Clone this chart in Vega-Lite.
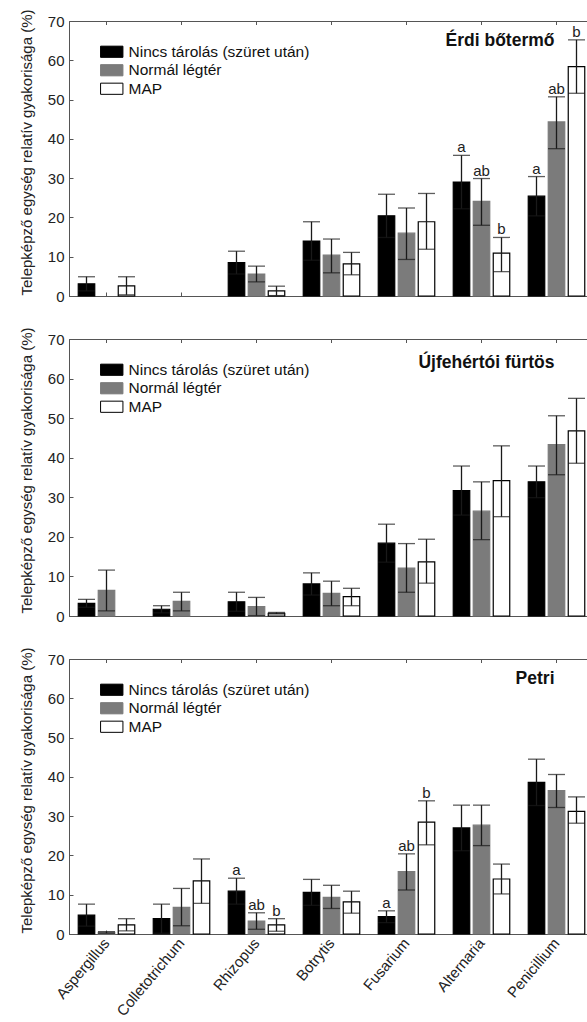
{
"$schema":"https://vega.github.io/schema/vega-lite/v6.json",
"padding":{"left":18,"top":8,"right":0,"bottom":0},
"config":{"font":"Liberation Sans","view":{"stroke":"#555","strokeWidth":1},
"axis":{"domainColor":"#555","tickColor":"#555","labelColor":"#222","titleColor":"#222","grid":false},
"axisY":{"tickCount":7,"labelFontSize":15,"labelPadding":9,"tickSize":-4,"titleFontSize":15,"titleFontWeight":"normal","titlePadding":13,"titleY":131},
"legend":{"labelLimit":400}},
"bounds":"flush",
"spacing":43,
"datasets":{
"erdi":[
{"genus":"Aspergillus","treatment":"Nincs tárolás (szüret után)","mean":3.1,"lo":1.3,"hi":4.9,"letter":""},
{"genus":"Aspergillus","treatment":"Normál légtér","mean":0,"lo":0,"hi":0,"letter":""},
{"genus":"Aspergillus","treatment":"MAP","mean":2.6,"lo":0.3,"hi":4.9,"letter":""},
{"genus":"Colletotrichum","treatment":"Nincs tárolás (szüret után)","mean":0,"lo":0,"hi":0,"letter":""},
{"genus":"Colletotrichum","treatment":"Normál légtér","mean":0,"lo":0,"hi":0,"letter":""},
{"genus":"Colletotrichum","treatment":"MAP","mean":0,"lo":0,"hi":0,"letter":""},
{"genus":"Rhizopus","treatment":"Nincs tárolás (szüret után)","mean":8.5,"lo":5.6,"hi":11.4,"letter":""},
{"genus":"Rhizopus","treatment":"Normál légtér","mean":5.6,"lo":3.6,"hi":7.6,"letter":""},
{"genus":"Rhizopus","treatment":"MAP","mean":1.3,"lo":0.1,"hi":2.5,"letter":""},
{"genus":"Botrytis","treatment":"Nincs tárolás (szüret után)","mean":14.0,"lo":9.1,"hi":18.9,"letter":""},
{"genus":"Botrytis","treatment":"Normál légtér","mean":10.4,"lo":5.9,"hi":14.5,"letter":""},
{"genus":"Botrytis","treatment":"MAP","mean":8.2,"lo":5.4,"hi":11.1,"letter":""},
{"genus":"Fusarium","treatment":"Nincs tárolás (szüret után)","mean":20.4,"lo":14.9,"hi":25.9,"letter":""},
{"genus":"Fusarium","treatment":"Normál légtér","mean":16.0,"lo":9.3,"hi":22.4,"letter":""},
{"genus":"Fusarium","treatment":"MAP","mean":18.9,"lo":11.9,"hi":26.1,"letter":""},
{"genus":"Alternaria","treatment":"Nincs tárolás (szüret után)","mean":29.0,"lo":22.2,"hi":35.8,"letter":"a"},
{"genus":"Alternaria","treatment":"Normál légtér","mean":24.1,"lo":18.0,"hi":29.9,"letter":"ab"},
{"genus":"Alternaria","treatment":"MAP","mean":10.9,"lo":6.2,"hi":14.9,"letter":"b"},
{"genus":"Penicillium","treatment":"Nincs tárolás (szüret után)","mean":25.4,"lo":20.4,"hi":30.4,"letter":"a"},
{"genus":"Penicillium","treatment":"Normál légtér","mean":44.3,"lo":37.5,"hi":50.7,"letter":"ab"},
{"genus":"Penicillium","treatment":"MAP","mean":58.4,"lo":51.6,"hi":65.2,"letter":"b"}
],
"ujf":[
{"genus":"Aspergillus","treatment":"Nincs tárolás (szüret után)","mean":3.2,"lo":2.2,"hi":4.2,"letter":""},
{"genus":"Aspergillus","treatment":"Normál légtér","mean":6.5,"lo":1.3,"hi":11.6,"letter":""},
{"genus":"Aspergillus","treatment":"MAP","mean":0,"lo":0,"hi":0,"letter":""},
{"genus":"Colletotrichum","treatment":"Nincs tárolás (szüret után)","mean":1.7,"lo":0.8,"hi":2.6,"letter":""},
{"genus":"Colletotrichum","treatment":"Normál légtér","mean":3.7,"lo":1.3,"hi":6.0,"letter":""},
{"genus":"Colletotrichum","treatment":"MAP","mean":0,"lo":0,"hi":0,"letter":""},
{"genus":"Rhizopus","treatment":"Nincs tárolás (szüret után)","mean":3.6,"lo":1.2,"hi":6.0,"letter":""},
{"genus":"Rhizopus","treatment":"Normál légtér","mean":2.4,"lo":0.1,"hi":4.7,"letter":""},
{"genus":"Rhizopus","treatment":"MAP","mean":0.7,"lo":0.5,"hi":0.9,"letter":""},
{"genus":"Botrytis","treatment":"Nincs tárolás (szüret után)","mean":8.1,"lo":5.3,"hi":10.9,"letter":""},
{"genus":"Botrytis","treatment":"Normál légtér","mean":5.7,"lo":2.6,"hi":8.8,"letter":""},
{"genus":"Botrytis","treatment":"MAP","mean":4.9,"lo":2.6,"hi":7.0,"letter":""},
{"genus":"Fusarium","treatment":"Nincs tárolás (szüret után)","mean":18.4,"lo":13.6,"hi":23.2,"letter":""},
{"genus":"Fusarium","treatment":"Normál légtér","mean":12.1,"lo":6.0,"hi":18.3,"letter":""},
{"genus":"Fusarium","treatment":"MAP","mean":13.7,"lo":8.3,"hi":19.4,"letter":""},
{"genus":"Alternaria","treatment":"Nincs tárolás (szüret után)","mean":31.7,"lo":25.5,"hi":37.9,"letter":""},
{"genus":"Alternaria","treatment":"Normál légtér","mean":26.5,"lo":19.3,"hi":33.9,"letter":""},
{"genus":"Alternaria","treatment":"MAP","mean":34.2,"lo":25.1,"hi":43.0,"letter":""},
{"genus":"Penicillium","treatment":"Nincs tárolás (szüret után)","mean":33.9,"lo":29.9,"hi":37.9,"letter":""},
{"genus":"Penicillium","treatment":"Normál légtér","mean":43.3,"lo":35.7,"hi":50.6,"letter":""},
{"genus":"Penicillium","treatment":"MAP","mean":46.8,"lo":38.6,"hi":55.0,"letter":""}
],
"petri":[
{"genus":"Aspergillus","treatment":"Nincs tárolás (szüret után)","mean":4.8,"lo":2.0,"hi":7.6,"letter":""},
{"genus":"Aspergillus","treatment":"Normál légtér","mean":0.4,"lo":0.2,"hi":0.6,"letter":""},
{"genus":"Aspergillus","treatment":"MAP","mean":2.3,"lo":0.8,"hi":3.9,"letter":""},
{"genus":"Colletotrichum","treatment":"Nincs tárolás (szüret után)","mean":3.9,"lo":0.2,"hi":7.6,"letter":""},
{"genus":"Colletotrichum","treatment":"Normál légtér","mean":6.8,"lo":2.1,"hi":11.6,"letter":""},
{"genus":"Colletotrichum","treatment":"MAP","mean":13.5,"lo":7.8,"hi":19.1,"letter":""},
{"genus":"Rhizopus","treatment":"Nincs tárolás (szüret után)","mean":10.9,"lo":7.6,"hi":14.2,"letter":"a"},
{"genus":"Rhizopus","treatment":"Normál légtér","mean":3.3,"lo":1.2,"hi":5.4,"letter":"ab"},
{"genus":"Rhizopus","treatment":"MAP","mean":2.3,"lo":0.7,"hi":3.9,"letter":"b"},
{"genus":"Botrytis","treatment":"Nincs tárolás (szüret után)","mean":10.6,"lo":7.3,"hi":13.9,"letter":""},
{"genus":"Botrytis","treatment":"Normál légtér","mean":9.3,"lo":6.5,"hi":12.4,"letter":""},
{"genus":"Botrytis","treatment":"MAP","mean":8.2,"lo":5.3,"hi":10.9,"letter":""},
{"genus":"Fusarium","treatment":"Nincs tárolás (szüret után)","mean":4.4,"lo":2.9,"hi":5.9,"letter":"a"},
{"genus":"Fusarium","treatment":"Normál légtér","mean":15.9,"lo":11.2,"hi":20.4,"letter":"ab"},
{"genus":"Fusarium","treatment":"MAP","mean":28.5,"lo":22.7,"hi":33.9,"letter":"b"},
{"genus":"Alternaria","treatment":"Nincs tárolás (szüret után)","mean":27.0,"lo":21.2,"hi":32.8,"letter":""},
{"genus":"Alternaria","treatment":"Normál légtér","mean":27.7,"lo":22.5,"hi":32.8,"letter":""},
{"genus":"Alternaria","treatment":"MAP","mean":14.0,"lo":10.2,"hi":17.8,"letter":""},
{"genus":"Penicillium","treatment":"Nincs tárolás (szüret után)","mean":38.6,"lo":32.7,"hi":44.5,"letter":""},
{"genus":"Penicillium","treatment":"Normál légtér","mean":36.5,"lo":32.2,"hi":40.6,"letter":""},
{"genus":"Penicillium","treatment":"MAP","mean":31.2,"lo":28.2,"hi":34.9,"letter":""}
],
"t1":[{"genus":"Penicillium","v":65,"t":"Érdi bőtermő"}],
"t2":[{"genus":"Penicillium","v":64,"t":"Újfehértói fürtös"}],
"t3":[{"genus":"Penicillium","v":65,"t":"Petri"}]
},
"vconcat":[
{"width":525,"height":275,"data":{"name":"erdi"},
"layer":[
{"transform":[{"filter":"datum.mean > 0"}],"mark":{"type":"bar","strokeWidth":1.2},"encoding":{
"x":{"field":"genus","type":"nominal","sort":["Aspergillus","Colletotrichum","Rhizopus","Botrytis","Fusarium","Alternaria","Penicillium"],"scale":{"paddingInner":0.2,"paddingOuter":0.1},"axis":{"title":null,"labels":false,"tickSize":-4}},
"xOffset":{"field":"treatment","type":"nominal","sort":["Nincs tárolás (szüret után)","Normál légtér","MAP"],"scale":{"domain":["Nincs tárolás (szüret után)","Normál légtér","MAP"],"paddingInner":0.175,"paddingOuter":0.0875}},
"y":{"field":"mean","type":"quantitative","scale":{"domain":[0,70],"nice":false},"axis":{"title":"Telepképző egység relatív gyakorisága (%)"}},
"fill":{"field":"treatment","type":"nominal","scale":{"domain":["Nincs tárolás (szüret után)","Normál légtér","MAP"],"range":["#000000","#7b7b7b","#ffffff"]},"legend":{"orient":"none","legendX":35,"legendY":23,"title":null,"padding":0,"rowPadding":1.5,"labelFontSize":15.5,"labelOffset":9,"labelColor":"#111","symbolType":"M-2,-1H2V1H-2Z","symbolSize":125,"symbolStrokeWidth":1}},
"stroke":{"field":"treatment","type":"nominal","scale":{"domain":["Nincs tárolás (szüret után)","Normál légtér","MAP"],"range":["#000000","#7b7b7b","#000000"]}}
}},
{"transform":[{"filter":"datum.mean > 0"}],"mark":{"type":"rule","color":"#1a1a1a","strokeWidth":1.3},"encoding":{
"x":{"field":"genus","type":"nominal","sort":["Aspergillus","Colletotrichum","Rhizopus","Botrytis","Fusarium","Alternaria","Penicillium"]},
"xOffset":{"field":"treatment","type":"nominal","sort":["Nincs tárolás (szüret után)","Normál légtér","MAP"]},
"y":{"field":"lo","type":"quantitative"},"y2":{"field":"hi"}}},
{"transform":[{"filter":"datum.mean > 0"}],"mark":{"type":"tick","color":"#1a1a1a","thickness":1.3,"size":17},"encoding":{
"x":{"field":"genus","type":"nominal","sort":["Aspergillus","Colletotrichum","Rhizopus","Botrytis","Fusarium","Alternaria","Penicillium"]},
"xOffset":{"field":"treatment","type":"nominal","sort":["Nincs tárolás (szüret után)","Normál légtér","MAP"]},
"y":{"field":"hi","type":"quantitative"}}},
{"transform":[{"filter":"datum.mean > 0"}],"mark":{"type":"tick","color":"#1a1a1a","thickness":1.3,"size":17},"encoding":{
"x":{"field":"genus","type":"nominal","sort":["Aspergillus","Colletotrichum","Rhizopus","Botrytis","Fusarium","Alternaria","Penicillium"]},
"xOffset":{"field":"treatment","type":"nominal","sort":["Nincs tárolás (szüret után)","Normál légtér","MAP"]},
"y":{"field":"lo","type":"quantitative"}}},
{"mark":{"type":"text","fontSize":15,"baseline":"alphabetic","dy":-3,"color":"#222"},"encoding":{
"x":{"field":"genus","type":"nominal","sort":["Aspergillus","Colletotrichum","Rhizopus","Botrytis","Fusarium","Alternaria","Penicillium"]},
"xOffset":{"field":"treatment","type":"nominal","sort":["Nincs tárolás (szüret után)","Normál légtér","MAP"]},
"y":{"field":"hi","type":"quantitative"},"text":{"field":"letter"}}},
{"mark":{"type":"rule","color":"#555"},"encoding":{
"x":{"field":"genus","type":"nominal","sort":["Aspergillus","Colletotrichum","Rhizopus","Botrytis","Fusarium","Alternaria","Penicillium"]},
"y":{"datum":70},"y2":{"datum":69}}},
{"data":{"name":"t1"},"mark":{"type":"text","align":"right","baseline":"middle","fontSize":17.5,"fontWeight":"bold","dx":-2,"color":"#111"},"encoding":{
"x":{"field":"genus","type":"nominal","sort":["Aspergillus","Colletotrichum","Rhizopus","Botrytis","Fusarium","Alternaria","Penicillium"]},
"y":{"field":"v","type":"quantitative"},"text":{"field":"t"}}}
]},
{"width":525,"height":277,"data":{"name":"ujf"},
"layer":[
{"transform":[{"filter":"datum.mean > 0"}],"mark":{"type":"bar","strokeWidth":1.2},"encoding":{
"x":{"field":"genus","type":"nominal","sort":["Aspergillus","Colletotrichum","Rhizopus","Botrytis","Fusarium","Alternaria","Penicillium"],"scale":{"paddingInner":0.2,"paddingOuter":0.1},"axis":{"title":null,"labels":false,"tickSize":-4}},
"xOffset":{"field":"treatment","type":"nominal","sort":["Nincs tárolás (szüret után)","Normál légtér","MAP"],"scale":{"domain":["Nincs tárolás (szüret után)","Normál légtér","MAP"],"paddingInner":0.175,"paddingOuter":0.0875}},
"y":{"field":"mean","type":"quantitative","scale":{"domain":[0,70],"nice":false},"axis":{"title":"Telepképző egység relatív gyakorisága (%)"}},
"fill":{"field":"treatment","type":"nominal","scale":{"domain":["Nincs tárolás (szüret után)","Normál légtér","MAP"],"range":["#000000","#7b7b7b","#ffffff"]},"legend":{"orient":"none","legendX":35,"legendY":23,"title":null,"padding":0,"rowPadding":1.5,"labelFontSize":15.5,"labelOffset":9,"labelColor":"#111","symbolType":"M-2,-1H2V1H-2Z","symbolSize":125,"symbolStrokeWidth":1}},
"stroke":{"field":"treatment","type":"nominal","scale":{"domain":["Nincs tárolás (szüret után)","Normál légtér","MAP"],"range":["#000000","#7b7b7b","#000000"]}}
}},
{"transform":[{"filter":"datum.mean > 0"}],"mark":{"type":"rule","color":"#1a1a1a","strokeWidth":1.3},"encoding":{
"x":{"field":"genus","type":"nominal","sort":["Aspergillus","Colletotrichum","Rhizopus","Botrytis","Fusarium","Alternaria","Penicillium"]},
"xOffset":{"field":"treatment","type":"nominal","sort":["Nincs tárolás (szüret után)","Normál légtér","MAP"]},
"y":{"field":"lo","type":"quantitative"},"y2":{"field":"hi"}}},
{"transform":[{"filter":"datum.mean > 0"}],"mark":{"type":"tick","color":"#1a1a1a","thickness":1.3,"size":17},"encoding":{
"x":{"field":"genus","type":"nominal","sort":["Aspergillus","Colletotrichum","Rhizopus","Botrytis","Fusarium","Alternaria","Penicillium"]},
"xOffset":{"field":"treatment","type":"nominal","sort":["Nincs tárolás (szüret után)","Normál légtér","MAP"]},
"y":{"field":"hi","type":"quantitative"}}},
{"transform":[{"filter":"datum.mean > 0"}],"mark":{"type":"tick","color":"#1a1a1a","thickness":1.3,"size":17},"encoding":{
"x":{"field":"genus","type":"nominal","sort":["Aspergillus","Colletotrichum","Rhizopus","Botrytis","Fusarium","Alternaria","Penicillium"]},
"xOffset":{"field":"treatment","type":"nominal","sort":["Nincs tárolás (szüret után)","Normál légtér","MAP"]},
"y":{"field":"lo","type":"quantitative"}}},
{"mark":{"type":"rule","color":"#555"},"encoding":{
"x":{"field":"genus","type":"nominal","sort":["Aspergillus","Colletotrichum","Rhizopus","Botrytis","Fusarium","Alternaria","Penicillium"]},
"y":{"datum":70},"y2":{"datum":69}}},
{"data":{"name":"t2"},"mark":{"type":"text","align":"right","baseline":"middle","fontSize":17.5,"fontWeight":"bold","dx":-2,"color":"#111"},"encoding":{
"x":{"field":"genus","type":"nominal","sort":["Aspergillus","Colletotrichum","Rhizopus","Botrytis","Fusarium","Alternaria","Penicillium"]},
"y":{"field":"v","type":"quantitative"},"text":{"field":"t"}}}
]},
{"width":525,"height":275,"data":{"name":"petri"},
"layer":[
{"transform":[{"filter":"datum.mean > 0"}],"mark":{"type":"bar","strokeWidth":1.2},"encoding":{
"x":{"field":"genus","type":"nominal","sort":["Aspergillus","Colletotrichum","Rhizopus","Botrytis","Fusarium","Alternaria","Penicillium"],"scale":{"paddingInner":0.2,"paddingOuter":0.1},"axis":{"title":null,"labels":true,"tickSize":-4,"labelAngle":-50,"labelAlign":"right","labelBaseline":"middle","labelPadding":10,"labelFontSize":15}},
"xOffset":{"field":"treatment","type":"nominal","sort":["Nincs tárolás (szüret után)","Normál légtér","MAP"],"scale":{"domain":["Nincs tárolás (szüret után)","Normál légtér","MAP"],"paddingInner":0.175,"paddingOuter":0.0875}},
"y":{"field":"mean","type":"quantitative","scale":{"domain":[0,70],"nice":false},"axis":{"title":"Telepképző egység relatív gyakorisága (%)"}},
"fill":{"field":"treatment","type":"nominal","scale":{"domain":["Nincs tárolás (szüret után)","Normál légtér","MAP"],"range":["#000000","#7b7b7b","#ffffff"]},"legend":{"orient":"none","legendX":35,"legendY":23,"title":null,"padding":0,"rowPadding":1.5,"labelFontSize":15.5,"labelOffset":9,"labelColor":"#111","symbolType":"M-2,-1H2V1H-2Z","symbolSize":125,"symbolStrokeWidth":1}},
"stroke":{"field":"treatment","type":"nominal","scale":{"domain":["Nincs tárolás (szüret után)","Normál légtér","MAP"],"range":["#000000","#7b7b7b","#000000"]}}
}},
{"transform":[{"filter":"datum.mean > 0"}],"mark":{"type":"rule","color":"#1a1a1a","strokeWidth":1.3},"encoding":{
"x":{"field":"genus","type":"nominal","sort":["Aspergillus","Colletotrichum","Rhizopus","Botrytis","Fusarium","Alternaria","Penicillium"]},
"xOffset":{"field":"treatment","type":"nominal","sort":["Nincs tárolás (szüret után)","Normál légtér","MAP"]},
"y":{"field":"lo","type":"quantitative"},"y2":{"field":"hi"}}},
{"transform":[{"filter":"datum.mean > 0"}],"mark":{"type":"tick","color":"#1a1a1a","thickness":1.3,"size":17},"encoding":{
"x":{"field":"genus","type":"nominal","sort":["Aspergillus","Colletotrichum","Rhizopus","Botrytis","Fusarium","Alternaria","Penicillium"]},
"xOffset":{"field":"treatment","type":"nominal","sort":["Nincs tárolás (szüret után)","Normál légtér","MAP"]},
"y":{"field":"hi","type":"quantitative"}}},
{"transform":[{"filter":"datum.mean > 0"}],"mark":{"type":"tick","color":"#1a1a1a","thickness":1.3,"size":17},"encoding":{
"x":{"field":"genus","type":"nominal","sort":["Aspergillus","Colletotrichum","Rhizopus","Botrytis","Fusarium","Alternaria","Penicillium"]},
"xOffset":{"field":"treatment","type":"nominal","sort":["Nincs tárolás (szüret után)","Normál légtér","MAP"]},
"y":{"field":"lo","type":"quantitative"}}},
{"mark":{"type":"text","fontSize":15,"baseline":"alphabetic","dy":-3,"color":"#222"},"encoding":{
"x":{"field":"genus","type":"nominal","sort":["Aspergillus","Colletotrichum","Rhizopus","Botrytis","Fusarium","Alternaria","Penicillium"]},
"xOffset":{"field":"treatment","type":"nominal","sort":["Nincs tárolás (szüret után)","Normál légtér","MAP"]},
"y":{"field":"hi","type":"quantitative"},"text":{"field":"letter"}}},
{"mark":{"type":"rule","color":"#555"},"encoding":{
"x":{"field":"genus","type":"nominal","sort":["Aspergillus","Colletotrichum","Rhizopus","Botrytis","Fusarium","Alternaria","Penicillium"]},
"y":{"datum":70},"y2":{"datum":69}}},
{"data":{"name":"t3"},"mark":{"type":"text","align":"right","baseline":"middle","fontSize":17.5,"fontWeight":"bold","dx":-2,"color":"#111"},"encoding":{
"x":{"field":"genus","type":"nominal","sort":["Aspergillus","Colletotrichum","Rhizopus","Botrytis","Fusarium","Alternaria","Penicillium"]},
"y":{"field":"v","type":"quantitative"},"text":{"field":"t"}}}
]}
],
"resolve":{"scale":{"fill":"independent","stroke":"independent"},"legend":{"fill":"independent","stroke":"independent"}}
}
